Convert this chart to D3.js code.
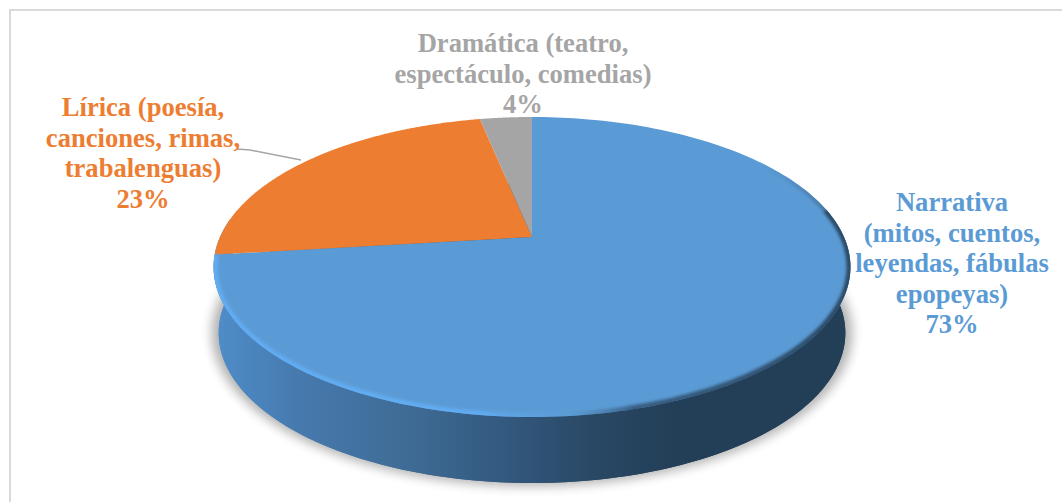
<!DOCTYPE html>
<html lang="es">
<head>
<meta charset="utf-8">
<title>Géneros literarios</title>
<script src="https://cdn.jsdelivr.net/npm/d3@7"></script>
<style>
    html, body { margin: 0; padding: 0; background: #fff; }
    svg { display: block; }
    text { font-family: "Liberation Serif", serif; font-weight: bold; font-size: 26.6px; text-anchor: middle; }
</style>
</head>
<body>
<script>
// Data
const categories = ["Narrativa", "Lírica", "Dramática"];
const values = [73.1, 23.7, 3.2];
const percentLabels = ["73%", "23%", "4%"];
const sliceColors = ["#5b9bd5", "#ed7d31", "#a5a5a5"];
const labelLines = [
    ["Narrativa", "(mitos, cuentos,", "leyendas, fábulas", "epopeyas)"],
    ["Lírica (poesía,", "canciones, rimas,", "trabalenguas)"],
    ["Dramática (teatro,", "espectáculo, comedias)"]
];
const labelPos = [[952, 211], [143, 116], [523, 52]];
const leader = [[237, 149], [250, 150], [301, 160]];

const width = 1062, height = 502;
const cx = 532, cy = 237;   // apex of the pie
const R = 312, tilt = 144, persp = 0.2, depth = 66;

const svg = d3.select("body").append("svg")
    .attr("width", width)
    .attr("height", height);
const defs = svg.append("defs");

// Perspective: a point on the unit disc -> screen
function project(angle, r, level) {
    const u = r * Math.sin(angle), v = r * Math.cos(angle);
    const k = 1 + persp * v;
    const shrink = 1 - 0.016 * level;
    return [cx + R * shrink * u / k, cy - tilt * v / k + depth * level];
}

const line = d3.line();
function arcPoints(a0, a1, level) {
    return d3.range(0, 201).map(i => project(a0 + (a1 - a0) * i / 200, 1, level));
}

// Frame
svg.append("rect")
    .attr("x", 10).attr("y", 10)
    .attr("width", 1070).attr("height", 520)
    .attr("fill", "#fff")
    .attr("stroke", "#d9d9d9")
    .attr("stroke-width", 2);

defs.append("filter").attr("id", "blur6")
    .attr("x", "-10%").attr("y", "-10%").attr("width", "120%").attr("height", "120%")
    .append("feGaussianBlur").attr("stdDeviation", 5);
defs.append("filter").attr("id", "blur1")
    .attr("x", "-5%").attr("y", "-5%").attr("width", "110%").attr("height", "110%")
    .append("feGaussianBlur").attr("stdDeviation", 1.5);

const sideGrad = defs.append("linearGradient").attr("id", "side")
    .attr("gradientUnits", "userSpaceOnUse")
    .attr("x1", 213).attr("x2", 850).attr("y1", 0).attr("y2", 0);
[[0, "#4f8dca"], [0.14, "#4679ad"], [0.3, "#3f6c96"], [0.45, "#335a80"], [0.6, "#294864"], [0.72, "#233f58"], [1, "#233f58"]]
    .forEach(s => sideGrad.append("stop").attr("offset", s[0]).attr("stop-color", s[1]));

const rimGrad = defs.append("linearGradient").attr("id", "rim")
    .attr("gradientUnits", "userSpaceOnUse")
    .attr("x1", 213).attr("x2", 850).attr("y1", 0).attr("y2", 0);
[[0, "#62acf2", 1], [0.42, "#62acf2", 1], [0.56, "#5b9bd5", 0.4], [0.66, "#2c4a66", 0.75], [1, "#2c4a66", 1]]
    .forEach(s => rimGrad.append("stop").attr("offset", s[0]).attr("stop-color", s[1]).attr("stop-opacity", s[2]));

// dark edge on the right fades out towards the back of the disc
const edgeGrad = defs.append("linearGradient").attr("id", "edge")
    .attr("gradientUnits", "userSpaceOnUse")
    .attr("x1", 0).attr("x2", 0).attr("y1", 165).attr("y2", 270);
[[0, 0], [1, 1]]
    .forEach(s => edgeGrad.append("stop").attr("offset", s[0]).attr("stop-color", "#2c4a66").attr("stop-opacity", s[1]));

// Slices come from the layout, clockwise from twelve o'clock
const slices = d3.pie().sort(null)(values);
const frontStart = Math.PI / 2 - 0.2, frontEnd = slices[0].endAngle;

// Soft shadow under the disc, a bit larger than the base
svg.append("path")
    .attr("d", line(arcPoints(0, 2 * Math.PI, 1)) + "Z")
    .attr("transform", `translate(${cx},${cy + depth + 30}) scale(1.022) translate(${-cx},${-(cy + depth + 30)})`)
    .attr("fill", "#000")
    .attr("opacity", 0.3)
    .attr("filter", "url(#blur6)");

// Side wall
const wallTop = arcPoints(frontStart, frontEnd + 0.25, 0);
const wallBottom = arcPoints(frontStart, frontEnd + 0.25, 1).reverse();
svg.append("path")
    .attr("d", line(wallTop.concat(wallBottom)) + "Z")
    .attr("fill", "url(#side)");
svg.append("path")
    .attr("d", line(arcPoints(0, 2 * Math.PI, 1)) + "Z")
    .attr("fill", "url(#side)");

// Top face
svg.selectAll("path.slice")
    .data(slices)
    .enter()
    .append("path")
    .attr("class", "slice")
    .attr("d", d => line([project(0, 0, 0)].concat(arcPoints(d.startAngle, d.endAngle, 0))) + "Z")
    .attr("fill", (d, i) => sliceColors[i]);

// Bevel on the front edge of the blue slice
defs.append("clipPath").attr("id", "disc")
    .append("path").attr("d", line(arcPoints(0, 2 * Math.PI, 0)) + "Z");
const bevel = svg.append("g").attr("clip-path", "url(#disc)");
bevel.append("path")
    .attr("d", line(arcPoints(Math.PI / 2 - 0.2, frontEnd, 0)))
    .attr("fill", "none")
    .attr("stroke", "url(#rim)")
    .attr("stroke-width", 8)
    .attr("filter", "url(#blur1)");
bevel.append("path")
    .attr("d", line(arcPoints(0.9, Math.PI / 2 - 0.2, 0)))
    .attr("fill", "none")
    .attr("stroke", "url(#edge)")
    .attr("stroke-width", 7)
    .attr("filter", "url(#blur1)");

// Leader line
svg.append("path")
    .attr("d", line(leader))
    .attr("fill", "none")
    .attr("stroke", "#a5a5a5")
    .attr("stroke-width", 1.5);

// Labels
const lineHeight = 30.6;
labelLines.forEach((lines, i) => {
    const t = svg.append("text")
        .attr("fill", sliceColors[i])
        .attr("data-category", categories[i]);
    lines.concat(percentLabels[i]).forEach((s, j) => {
        t.append("tspan")
            .attr("x", labelPos[i][0])
            .attr("y", labelPos[i][1] + j * lineHeight)
            .text(s);
    });
});
</script>
</body>
</html>
